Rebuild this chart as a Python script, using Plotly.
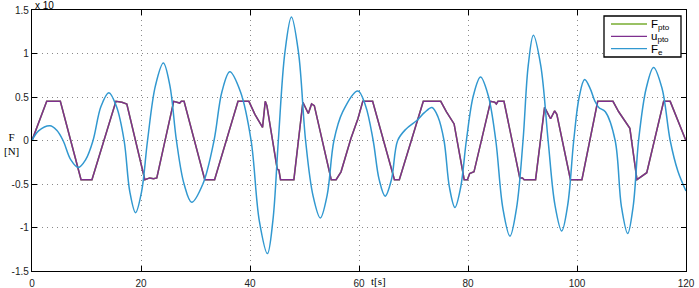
import plotly.graph_objects as go

# ---- data ----
t_fe = [0, 1.2, 3.3, 4.5, 5.7, 7.1, 8.5, 9.85, 11.2, 12.65, 14.1, 15.5, 16.9, 17.95, 19.0,
        20.1, 21.2, 22.65, 24.1, 25.3, 26.5, 27.9, 29.3, 31.35, 33.4, 34.85, 36.3, 38.25,
        40.2, 41.7, 43.2, 44.2, 45.2, 46.4, 47.6, 48.9, 50.2, 51.55, 52.9, 54.15, 55.4,
        57.0, 59.8, 61.2, 62.6, 63.7, 64.8, 65.95, 67.1, 68.6, 70.6, 72.0, 73.4, 74.5,
        75.6, 76.6, 77.6, 78.65, 79.7, 81.0, 82.3, 83.7, 85.1, 86.4, 87.7, 88.9, 90.1,
        91.05, 92.0, 93.35, 94.7, 95.95, 97.2, 98.3, 99.4, 100.4, 101.4, 102.4, 103.3,
        104.0, 105.2, 107.0, 108.15, 109.3, 110.3, 111.3, 112.7, 114.05, 115.6, 117.1,
        118.5, 120]
fe = [0, 0.11, 0.17, 0.12, 0.0, -0.22, -0.31, -0.22, 0.0, 0.39, 0.55, 0.39, 0.0, -0.59, -0.83,
      -0.59, 0.0, 0.63, 0.89, 0.63, 0.0, -0.50, -0.71, -0.50, 0.0, 0.56, 0.79, 0.56,
      0.0, -0.92, -1.30, -0.92, 0.0, 1.01, 1.42, 1.01, 0.0, -0.63, -0.89, -0.63, 0.0,
      0.33, 0.57, 0.40, 0.0, -0.45, -0.64, -0.45, 0.0, 0.13, 0.23, 0.32, 0.38, 0.27,
      0.0, -0.54, -0.77, -0.54, 0.0, 0.52, 0.73, 0.52, 0.0, -0.78, -1.10, -0.78, 0.0,
      0.86, 1.21, 0.86, 0.0, -0.74, -1.04, -0.74, 0.0, 0.50, 0.70, 0.60, 0.45,
      0.38, 0.33, 0.0, -0.76, -1.07, -0.76, 0.0, 0.60, 0.84, 0.60, 0.0,
      -0.35, -0.58]

t_u = [0, 2.7, 5.2, 9.0, 11.0, 15.4, 16.5, 17.4, 20.7, 21.6, 22.3, 22.9, 26.0, 26.8, 27.1,
       27.4, 27.9, 31.7, 33.5, 37.8, 39.8, 40.9, 42.3, 42.8, 43.1, 45.0, 45.3, 45.6, 48.05,
       49.7, 50.7, 51.3, 51.8, 54.9, 55.8, 56.7, 58.5, 59.8, 60.7, 62.5, 66.5, 67.4, 71.8,
       75.0, 76.05, 77.45, 79.3, 79.9, 80.3, 81.1, 84.15, 84.9, 85.2, 85.5, 86.6, 89.5,
       90.0, 90.3, 92.4, 94.05, 95.15, 95.9, 96.3, 98.8, 100.9, 103.8, 106.6, 107.65,
       109.7, 111.0, 112.8, 115.9, 117.1, 119.85, 120]
upto = [0, 0.45, 0.45, -0.45, -0.45, 0.45, 0.44, 0.42, -0.45, -0.43, -0.44, -0.43, 0.45, 0.44,
        0.43, 0.45, 0.45, -0.45, -0.45, 0.45, 0.45, 0.30, 0.15, 0.45, 0.40, -0.33, -0.34,
        -0.45, -0.45, 0.44, 0.31, 0.42, 0.40, -0.45, -0.45, -0.36, 0.02, 0.25, 0.45, 0.45,
        -0.45, -0.45, 0.45, 0.45, 0.33, 0.19, -0.45, -0.45, -0.38, -0.36, 0.45, 0.44, 0.42,
        0.45, 0.45, -0.43, -0.43, -0.45, -0.45, 0.38, 0.25, 0.34, 0.30, -0.45, -0.45, 0.45,
        0.45, 0.33, 0.14, -0.45, -0.37, 0.45, 0.45, 0.02, 0.0]
t_f = list(t_u)
fpto = list(upto)

x_ticks = [0, 20, 40, 60, 80, 100, 120]
y_ticks = [-1.5, -1, -0.5, 0, 0.5, 1, 1.5]
y_tick_text = ["-1.5", "-1", "-0.5", "0", "0.5", "1", "1.5"]
legend_names = ["F<sub>pto</sub>", "u<sub>pto</sub>", "F<sub>e</sub>"]

GREEN = "#77AC30"
PURPLE = "#7E2F8E"
BLUE = "#3198D0"
colors = [GREEN, PURPLE, BLUE]

fig = go.Figure()
fig.add_trace(go.Scatter(x=t_f, y=fpto, mode="lines", name=legend_names[0],
                         line=dict(color=GREEN, width=1.5)))
fig.add_trace(go.Scatter(x=t_u, y=upto, mode="lines", name=legend_names[1],
                         line=dict(color=PURPLE, width=1.5)))
fig.add_trace(go.Scatter(x=t_fe, y=fe, mode="lines", name=legend_names[2],
                         line=dict(color=BLUE, width=1.5, shape="spline", smoothing=1.0)))

axis_common = dict(showline=True, linecolor="black", linewidth=1.3, mirror="ticks",
                   ticks="inside", ticklen=5, tickcolor="black", automargin=False,
                   showgrid=True, gridcolor="#8a8a8a", griddash="1px,4px", gridwidth=1,
                   zeroline=False,
                   tickfont=dict(family="Liberation Sans, Arial", size=10, color="#222"))

fig.update_xaxes(range=[0, 120], tickvals=x_ticks, ticklabelstandoff=3, **axis_common)
fig.update_yaxes(range=[-1.5, 1.5], tickvals=y_ticks, ticktext=y_tick_text, **axis_common)

# plot-area geometry in pixels
L, R, T, B = 32, 686, 10, 271
W, H = R - L, B - T
px = lambda x: (x - L) / W
py = lambda y: (B - y) / H

shapes = [dict(type="rect", xref="paper", yref="paper", x0=px(604), x1=px(681),
               y0=py(57), y1=py(16), fillcolor="white", line=dict(color="black", width=1.3),
               layer="above")]
annotations = []
for i, (nm, c) in enumerate(zip(legend_names, colors)):
    yl = 24 + 12.3 * i
    shapes.append(dict(type="line", xref="paper", yref="paper", x0=px(611), x1=px(647),
                       y0=py(yl), y1=py(yl), line=dict(color=c, width=1.3), layer="above"))
    annotations.append(dict(text=nm, x=px(649), y=py(yl + 1), xref="paper", yref="paper",
                            xanchor="left", yanchor="middle", showarrow=False,
                            font=dict(family="Liberation Sans, Arial", size=11.5, color="black")))

annotations += [
    dict(text="F<br>[N]", x=px(11), y=py(144), xref="paper", yref="paper", showarrow=False,
         xanchor="center", yanchor="middle",
         font=dict(family="Liberation Serif", size=11, color="black")),
    dict(text="t[s]", x=px(378), y=py(281), xref="paper", yref="paper", yanchor="middle",
         showarrow=False, font=dict(family="Liberation Serif", size=11, color="black")),
    dict(text="x 10", x=px(33), y=py(5), xref="paper", yref="paper", xanchor="left",
         yanchor="middle", showarrow=False,
         font=dict(family="Liberation Sans, Arial", size=10, color="black")),
]

fig.update_layout(
    width=699, height=288,
    margin=dict(l=L, r=699 - R, t=T, b=288 - B),
    paper_bgcolor="white", plot_bgcolor="white",
    showlegend=False,
    shapes=shapes,
    annotations=annotations,
)

fig.write_html("out.html")
